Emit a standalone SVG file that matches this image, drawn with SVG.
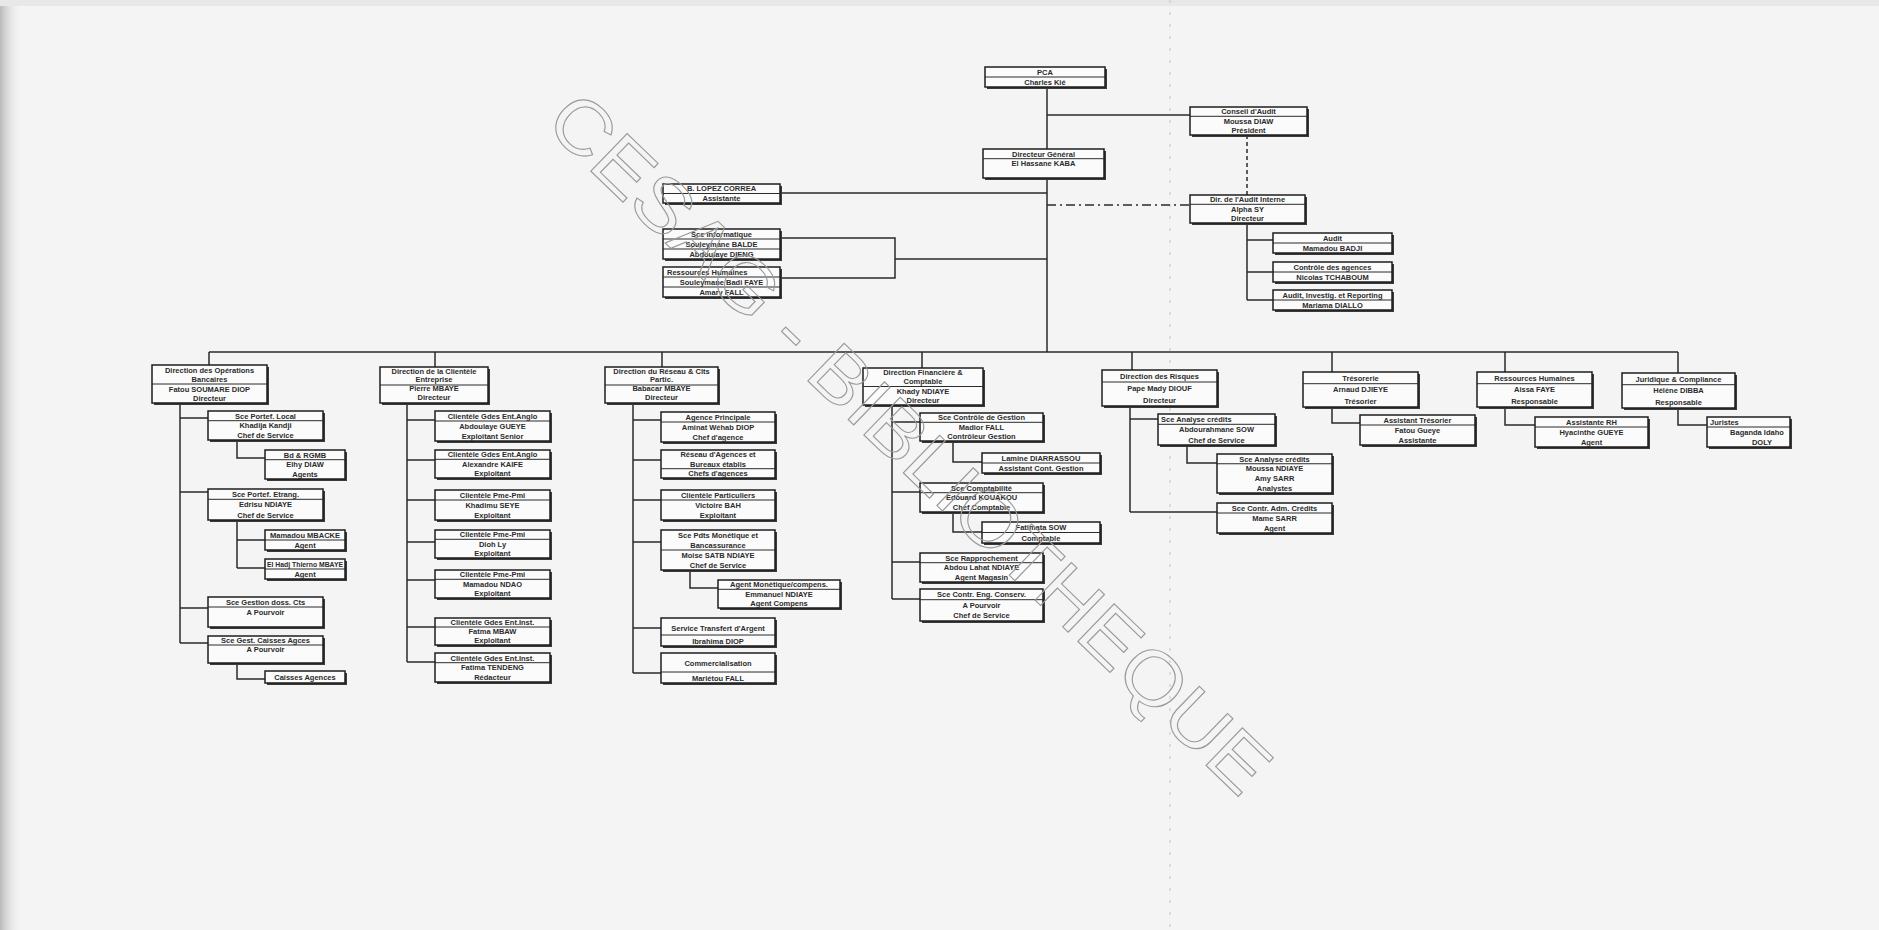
<svg xmlns="http://www.w3.org/2000/svg" width="1879" height="930" viewBox="0 0 1879 930">
<defs>
<linearGradient id="leftEdge" x1="0" y1="0" x2="1" y2="0">
<stop offset="0" stop-color="#b9b9b9"/><stop offset="1" stop-color="#f3f3f3" stop-opacity="0"/>
</linearGradient>
<style>
.bx{fill:#fbfbfb;stroke:#1e1e1e;stroke-width:1.5}
.sh{fill:#3a3a3a}
.dv{stroke:#2a2a2a;stroke-width:1}
.t{font-family:"Liberation Sans",Arial,sans-serif;font-size:7.5px;font-weight:bold;fill:#2b2b2b;text-anchor:middle}
.tl{font-family:"Liberation Sans",Arial,sans-serif;font-size:7.5px;font-weight:bold;fill:#2b2b2b;text-anchor:start}
.c{stroke:#2a2a2a;stroke-width:1.5;fill:none}
.dash{stroke:#2a2a2a;stroke-width:1.5;fill:none;stroke-dasharray:4 3}
.dd{stroke:#2a2a2a;stroke-width:1.5;fill:none;stroke-dasharray:9 4 2 4}
.wm{font-family:"Liberation Sans",Arial,sans-serif;font-size:76px;fill:none;stroke:#9a9a9a;stroke-width:1.1}
</style>
</defs>
<rect width="1879" height="930" fill="#f4f4f4"/>
<rect x="0" y="0" width="22" height="930" fill="url(#leftEdge)"/>
<rect x="0" y="0" width="1879" height="6" fill="#e8e8e8"/>
<line x1="1170" y1="0" x2="1170" y2="930" stroke="#c4c4c4" stroke-width="1" stroke-dasharray="3 9"/>

<g id="connectors">
<path class="c" d="M1047,87 V352"/>
<path class="c" d="M1047,115 H1190"/>
<path class="dash" d="M1247,135 V195"/>
<path class="dd" d="M1047,205 H1190"/>
<path class="c" d="M1247,223 V300 M1247,240 H1273 M1247,272 H1273 M1247,300 H1273"/>
<path class="c" d="M780,193 H1047"/>
<path class="c" d="M780,238 H895 V278 H780 M895,259 H1047"/>
<path class="c" d="M209,352 H1678"/>
<path class="c" d="M209,352 V365 M435,352 V367 M662,352 V367 M922,352 V368 M1132,352 V370 M1332,352 V372 M1505,352 V372 M1678,352 V373"/>
<path class="c" d="M180,403 V643 M180,418 H208 M180,492 H208 M180,608 H208 M180,643 H208"/>
<path class="c" d="M237,440 V458 H265 M237,520 V568 M237,540 H265 M237,568 H265 M237,663 V679 H265"/>
<path class="c" d="M407,403 V662 M407,420 H435 M407,460 H435 M407,500 H435 M407,542 H435 M407,580 H435 M407,627 H435 M407,662 H435"/>
<path class="c" d="M633,403 V673 M633,420 H661 M633,460 H661 M633,500 H661 M633,542 H661 M633,628 H661 M633,673 H661"/>
<path class="c" d="M690,570 V588 H718"/>
<path class="c" d="M892,405 V599 M892,422 H920 M892,492 H920 M892,562 H920 M892,599 H920"/>
<path class="c" d="M953,441 V462 H982 M953,512 V532 H982"/>
<path class="c" d="M1130,406 V512 M1130,419 H1158 M1130,512 H1217 M1187,445 V463 H1217"/>
<path class="c" d="M1332,407 V423 H1360 M1505,407 V425 H1535 M1678,408 V425 H1707"/>
</g>

<g id="pca"><rect class="sh" x="987" y="69" width="120" height="20"/><rect class="bx" x="985" y="67" width="120" height="20"/><line class="dv" x1="985" y1="77" x2="1105" y2="77"/>
<text class="t" x="1045" y="74.7">PCA</text><text class="t" x="1045" y="84.7">Charles Kié</text></g>
<g id="conseil-audit"><rect class="sh" x="1192" y="109" width="117" height="28"/><rect class="bx" x="1190" y="107" width="117" height="28"/><line class="dv" x1="1190" y1="116.3" x2="1307" y2="116.3"/>
<text class="t" x="1248.5" y="114.4">Conseil d'Audit</text><text class="t" x="1248.5" y="123.7">Moussa DIAW</text><text class="t" x="1248.5" y="133">Président</text></g>
<g id="dg"><rect class="sh" x="985" y="151" width="121" height="29"/><rect class="bx" x="983" y="149" width="121" height="29"/><line class="dv" x1="983" y1="158.7" x2="1104" y2="158.7"/>
<text class="t" x="1043.5" y="156.5">Directeur Général</text><text class="t" x="1043.5" y="166.2">El Hassane KABA</text></g>
<g id="lopez"><rect class="sh" x="665" y="186" width="117" height="19"/><rect class="bx" x="663" y="184" width="117" height="19"/><line class="dv" x1="663" y1="193.5" x2="780" y2="193.5"/>
<text class="t" x="721.5" y="191.4">B. LOPEZ CORREA</text><text class="t" x="721.5" y="200.9">Assistante</text></g>
<g id="informatique"><rect class="sh" x="665" y="231" width="117" height="30"/><rect class="bx" x="663" y="229" width="117" height="30"/><line class="dv" x1="663" y1="239" x2="780" y2="239"/><line class="dv" x1="663" y1="249" x2="780" y2="249"/>
<text class="t" x="721.5" y="236.7">Sce Informatique</text><text class="t" x="721.5" y="246.7">Souleymane BALDE</text><text class="t" x="721.5" y="256.7">Abdoulaye DIENG</text></g>
<g id="ressources-humaines-dg"><rect class="sh" x="665" y="269" width="117" height="30"/><rect class="bx" x="663" y="267" width="117" height="30"/><line class="dv" x1="663" y1="277" x2="780" y2="277"/><line class="dv" x1="663" y1="287" x2="780" y2="287"/>
<text class="tl" x="667" y="274.7">Ressources Humaines</text><text class="t" x="721.5" y="284.7">Souleymane Badi FAYE</text><text class="t" x="721.5" y="294.7">Amary FALL</text></g>
<g id="dir-audit"><rect class="sh" x="1192" y="197" width="115" height="28"/><rect class="bx" x="1190" y="195" width="115" height="28"/><line class="dv" x1="1190" y1="204.3" x2="1305" y2="204.3"/>
<text class="t" x="1247.5" y="202.4">Dir. de l'Audit Interne</text><text class="t" x="1247.5" y="211.7">Alpha SY</text><text class="t" x="1247.5" y="221">Directeur</text></g>
<g id="audit"><rect class="sh" x="1275" y="235" width="119" height="20"/><rect class="bx" x="1273" y="233" width="119" height="20"/><line class="dv" x1="1273" y1="243" x2="1392" y2="243"/>
<text class="t" x="1332.5" y="240.7">Audit</text><text class="t" x="1332.5" y="250.7">Mamadou BADJI</text></g>
<g id="controle-agences"><rect class="sh" x="1275" y="264" width="119" height="20"/><rect class="bx" x="1273" y="262" width="119" height="20"/><line class="dv" x1="1273" y1="272" x2="1392" y2="272"/>
<text class="t" x="1332.5" y="269.7">Contrôle des agences</text><text class="t" x="1332.5" y="279.7">Nicolas TCHABOUM</text></g>
<g id="audit-investig"><rect class="sh" x="1275" y="292" width="119" height="20"/><rect class="bx" x="1273" y="290" width="119" height="20"/><line class="dv" x1="1273" y1="300" x2="1392" y2="300"/>
<text class="t" x="1332.5" y="297.7">Audit, Investig. et Reporting</text><text class="t" x="1332.5" y="307.7">Mariama DIALLO</text></g>

<g id="dir-operations"><rect class="sh" x="154" y="367" width="115" height="38"/><rect class="bx" x="152" y="365" width="115" height="38"/><line class="dv" x1="152" y1="384" x2="267" y2="384"/>
<text class="t" x="209.5" y="372.5">Direction des Opérations</text><text class="t" x="209.5" y="382">Bancaires</text><text class="t" x="209.5" y="391.5">Fatou SOUMARE DIOP</text><text class="t" x="209.5" y="401">Directeur</text></g>
<g id="portef-local"><rect class="sh" x="210" y="413" width="115" height="29"/><rect class="bx" x="208" y="411" width="115" height="29"/><line class="dv" x1="208" y1="420.7" x2="323" y2="420.7"/>
<text class="t" x="265.5" y="418.5">Sce Portef. Local</text><text class="t" x="265.5" y="428.2">Khadija Kandji</text><text class="t" x="265.5" y="437.8">Chef de Service</text></g>
<g id="bd-rgmb"><rect class="sh" x="267" y="452" width="80" height="29"/><rect class="bx" x="265" y="450" width="80" height="29"/><line class="dv" x1="265" y1="459.7" x2="345" y2="459.7"/>
<text class="t" x="305" y="457.5">Bd &amp; RGMB</text><text class="t" x="305" y="467.2">Elhy DIAW</text><text class="t" x="305" y="476.8">Agents</text></g>
<g id="portef-etrang"><rect class="sh" x="210" y="491" width="115" height="31"/><rect class="bx" x="208" y="489" width="115" height="31"/><line class="dv" x1="208" y1="499.3" x2="323" y2="499.3"/>
<text class="t" x="265.5" y="496.9">Sce Portef. Etrang.</text><text class="t" x="265.5" y="507.2">Edrisu NDIAYE</text><text class="t" x="265.5" y="517.6">Chef de Service</text></g>
<g id="mbacke"><rect class="sh" x="267" y="532" width="80" height="20"/><rect class="bx" x="265" y="530" width="80" height="20"/><line class="dv" x1="265" y1="540" x2="345" y2="540"/>
<text class="t" x="305" y="537.7">Mamadou MBACKE</text><text class="t" x="305" y="547.7">Agent</text></g>
<g id="mbaye-agent"><rect class="sh" x="267" y="561" width="80" height="20"/><rect class="bx" x="265" y="559" width="80" height="20"/><line class="dv" x1="265" y1="569" x2="345" y2="569"/>
<text class="t" x="305" y="566.7" textLength="76" lengthAdjust="spacingAndGlyphs">El Hadj Thierno MBAYE</text><text class="t" x="305" y="576.7">Agent</text></g>
<g id="gestion-doss"><rect class="sh" x="210" y="599" width="115" height="30"/><rect class="bx" x="208" y="597" width="115" height="30"/><line class="dv" x1="208" y1="607" x2="323" y2="607"/>
<text class="t" x="265.5" y="604.7">Sce Gestion doss. Cts</text><text class="t" x="265.5" y="614.7">A Pourvoir</text></g>
<g id="gest-caisses"><rect class="sh" x="210" y="638" width="115" height="27"/><rect class="bx" x="208" y="636" width="115" height="27"/><line class="dv" x1="208" y1="645" x2="323" y2="645"/>
<text class="t" x="265.5" y="643.2">Sce Gest. Caisses Agces</text><text class="t" x="265.5" y="652.2">A Pourvoir</text></g>
<g id="caisses-agences"><rect class="sh" x="267" y="673" width="80" height="12"/><rect class="bx" x="265" y="671" width="80" height="12"/>
<text class="t" x="305" y="679.7">Caisses Agences</text></g>

<g id="dir-clientele"><rect class="sh" x="382" y="369" width="108" height="36"/><rect class="bx" x="380" y="367" width="108" height="36"/><line class="dv" x1="380" y1="385" x2="488" y2="385"/>
<text class="t" x="434" y="373.7">Direction de la Clientèle</text><text class="t" x="434" y="382.4">Entreprise</text><text class="t" x="434" y="391.4">Pierre MBAYE</text><text class="t" x="434" y="400.4">Directeur</text></g>
<g id="cli-1"><rect class="sh" x="437" y="413" width="115" height="30"/><rect class="bx" x="435" y="411" width="115" height="30"/><line class="dv" x1="435" y1="421" x2="550" y2="421"/>
<text class="t" x="492.5" y="418.7">Clientèle Gdes Ent.Anglo</text><text class="t" x="492.5" y="428.7">Abdoulaye GUEYE</text><text class="t" x="492.5" y="438.7">Exploitant Senior</text></g>
<g id="cli-2"><rect class="sh" x="437" y="452" width="115" height="28"/><rect class="bx" x="435" y="450" width="115" height="28"/><line class="dv" x1="435" y1="459.3" x2="550" y2="459.3"/>
<text class="t" x="492.5" y="457.4">Clientèle Gdes Ent.Anglo</text><text class="t" x="492.5" y="466.7">Alexandre KAIFE</text><text class="t" x="492.5" y="476">Exploitant</text></g>
<g id="cli-3"><rect class="sh" x="437" y="492" width="115" height="30"/><rect class="bx" x="435" y="490" width="115" height="30"/><line class="dv" x1="435" y1="500" x2="550" y2="500"/>
<text class="t" x="492.5" y="497.7">Clientèle Pme-Pmi</text><text class="t" x="492.5" y="507.7">Khadimu SEYE</text><text class="t" x="492.5" y="517.7">Exploitant</text></g>
<g id="cli-4"><rect class="sh" x="437" y="532" width="115" height="28"/><rect class="bx" x="435" y="530" width="115" height="28"/><line class="dv" x1="435" y1="539.3" x2="550" y2="539.3"/>
<text class="t" x="492.5" y="537.4">Clientèle Pme-Pmi</text><text class="t" x="492.5" y="546.7">Dioh Ly</text><text class="t" x="492.5" y="556">Exploitant</text></g>
<g id="cli-5"><rect class="sh" x="437" y="572" width="115" height="28"/><rect class="bx" x="435" y="570" width="115" height="28"/><line class="dv" x1="435" y1="579.3" x2="550" y2="579.3"/>
<text class="t" x="492.5" y="577.4">Clientèle Pme-Pmi</text><text class="t" x="492.5" y="586.7">Mamadou NDAO</text><text class="t" x="492.5" y="596">Exploitant</text></g>
<g id="cli-6"><rect class="sh" x="437" y="620" width="115" height="27"/><rect class="bx" x="435" y="618" width="115" height="27"/><line class="dv" x1="435" y1="627" x2="550" y2="627"/>
<text class="t" x="492.5" y="625.2">Clientèle Gdes Ent.Inst.</text><text class="t" x="492.5" y="634.2">Fatma MBAW</text><text class="t" x="492.5" y="643.2">Exploitant</text></g>
<g id="cli-7"><rect class="sh" x="437" y="655" width="115" height="29"/><rect class="bx" x="435" y="653" width="115" height="29"/><line class="dv" x1="435" y1="662.7" x2="550" y2="662.7"/>
<text class="t" x="492.5" y="660.5">Clientèle Gdes Ent.Inst.</text><text class="t" x="492.5" y="670.2">Fatima TENDENG</text><text class="t" x="492.5" y="679.8">Rédacteur</text></g>

<g id="dir-reseau"><rect class="sh" x="607" y="369" width="113" height="36"/><rect class="bx" x="605" y="367" width="113" height="36"/><line class="dv" x1="605" y1="385" x2="718" y2="385"/>
<text class="t" x="661.5" y="373.7">Direction du Réseau &amp; Clts</text><text class="t" x="661.5" y="382.4">Partic.</text><text class="t" x="661.5" y="391.4">Babacar MBAYE</text><text class="t" x="661.5" y="400.4">Directeur</text></g>
<g id="agence-principale"><rect class="sh" x="663" y="414" width="114" height="30"/><rect class="bx" x="661" y="412" width="114" height="30"/><line class="dv" x1="661" y1="422" x2="775" y2="422"/>
<text class="t" x="718" y="419.7">Agence Principale</text><text class="t" x="718" y="429.7">Aminat Wéhab DIOP</text><text class="t" x="718" y="439.7">Chef d'agence</text></g>
<g id="reseau-agences"><rect class="sh" x="663" y="452" width="114" height="28"/><rect class="bx" x="661" y="450" width="114" height="28"/><line class="dv" x1="661" y1="468.7" x2="775" y2="468.7"/>
<text class="t" x="718" y="457.4">Réseau d'Agences et</text><text class="t" x="718" y="466.7">Bureaux établis</text><text class="t" x="718" y="476">Chefs d'agences</text></g>
<g id="clientele-part"><rect class="sh" x="663" y="492" width="114" height="30"/><rect class="bx" x="661" y="490" width="114" height="30"/><line class="dv" x1="661" y1="500" x2="775" y2="500"/>
<text class="t" x="718" y="497.7">Clientèle Particuliers</text><text class="t" x="718" y="507.7">Victoire BAH</text><text class="t" x="718" y="517.7">Exploitant</text></g>
<g id="monetique"><rect class="sh" x="663" y="532" width="114" height="40"/><rect class="bx" x="661" y="530" width="114" height="40"/><line class="dv" x1="661" y1="550" x2="775" y2="550"/>
<text class="t" x="718" y="537.7">Sce Pdts Monétique et</text><text class="t" x="718" y="547.7">Bancassurance</text><text class="t" x="718" y="557.7">Moise SATB NDIAYE</text><text class="t" x="718" y="567.7">Chef de Service</text></g>
<g id="agent-monetique"><rect class="sh" x="720" y="582" width="122" height="28"/><rect class="bx" x="718" y="580" width="122" height="28"/><line class="dv" x1="718" y1="589.3" x2="840" y2="589.3"/>
<text class="t" x="779" y="587.4">Agent Monétique/compens.</text><text class="t" x="779" y="596.7">Emmanuel NDIAYE</text><text class="t" x="779" y="606">Agent Compens</text></g>
<g id="transfert"><rect class="sh" x="663" y="620" width="114" height="28"/><rect class="bx" x="661" y="618" width="114" height="28"/><line class="dv" x1="661" y1="635" x2="775" y2="635"/>
<text class="t" x="718" y="630.7">Service Transfert d'Argent</text><text class="t" x="718" y="643.7">Ibrahima DIOP</text></g>
<g id="commercialisation"><rect class="sh" x="663" y="655" width="114" height="30"/><rect class="bx" x="661" y="653" width="114" height="30"/><line class="dv" x1="661" y1="672" x2="775" y2="672"/>
<text class="t" x="718" y="665.7">Commercialisation</text><text class="t" x="718" y="680.7">Mariétou FALL</text></g>

<g id="dir-financiere"><rect class="sh" x="865" y="370" width="120" height="37"/><rect class="bx" x="863" y="368" width="120" height="37"/><line class="dv" x1="863" y1="386.5" x2="983" y2="386.5"/>
<text class="t" x="923" y="375.3">Direction Financière &amp;</text><text class="t" x="923" y="384.3">Comptable</text><text class="t" x="923" y="393.8">Khady NDIAYE</text><text class="t" x="923" y="403">Directeur</text></g>
<g id="controle-gestion"><rect class="sh" x="922" y="415" width="123" height="28"/><rect class="bx" x="920" y="413" width="123" height="28"/><line class="dv" x1="920" y1="422.3" x2="1043" y2="422.3"/>
<text class="t" x="981.5" y="420.4">Sce Contrôle de Gestion</text><text class="t" x="981.5" y="429.7">Madior FALL</text><text class="t" x="981.5" y="439">Contrôleur Gestion</text></g>
<g id="assistant-gestion"><rect class="sh" x="984" y="455" width="118" height="20"/><rect class="bx" x="982" y="453" width="118" height="20"/><line class="dv" x1="982" y1="463" x2="1100" y2="463"/>
<text class="t" x="1041" y="460.7">Lamine DIARRASSOU</text><text class="t" x="1041" y="470.7">Assistant Cont. Gestion</text></g>
<g id="comptabilite"><rect class="sh" x="922" y="485" width="123" height="29"/><rect class="bx" x="920" y="483" width="123" height="29"/><line class="dv" x1="920" y1="492.7" x2="1043" y2="492.7"/>
<text class="t" x="981.5" y="490.5">Sce Comptabilité</text><text class="t" x="981.5" y="500.2">Edouard KOUAKOU</text><text class="t" x="981.5" y="509.8">Chef Comptable</text></g>
<g id="comptable"><rect class="sh" x="984" y="524" width="118" height="21"/><rect class="bx" x="982" y="522" width="118" height="21"/><line class="dv" x1="982" y1="532.5" x2="1100" y2="532.5"/>
<text class="t" x="1041" y="530">Fatimata SOW</text><text class="t" x="1041" y="540.5">Comptable</text></g>
<g id="rapprochement"><rect class="sh" x="922" y="555" width="123" height="29"/><rect class="bx" x="920" y="553" width="123" height="29"/><line class="dv" x1="920" y1="562.7" x2="1043" y2="562.7"/>
<text class="t" x="981.5" y="560.5">Sce Rapprochement</text><text class="t" x="981.5" y="570.2">Abdou Lahat NDIAYE</text><text class="t" x="981.5" y="579.8">Agent Magasin</text></g>
<g id="contr-eng"><rect class="sh" x="922" y="591" width="123" height="32"/><rect class="bx" x="920" y="589" width="123" height="32"/><line class="dv" x1="920" y1="599.7" x2="1043" y2="599.7"/>
<text class="t" x="981.5" y="597">Sce Contr. Eng. Conserv.</text><text class="t" x="981.5" y="607.7">A Pourvoir</text><text class="t" x="981.5" y="618.3">Chef de Service</text></g>

<g id="dir-risques"><rect class="sh" x="1104" y="372" width="115" height="36"/><rect class="bx" x="1102" y="370" width="115" height="36"/><line class="dv" x1="1102" y1="382" x2="1217" y2="382"/>
<text class="t" x="1159.5" y="378.7">Direction des Risques</text><text class="t" x="1159.5" y="390.7">Pape Mady DIOUF</text><text class="t" x="1159.5" y="402.7">Directeur</text></g>
<g id="analyse-credits"><rect class="sh" x="1160" y="416" width="117" height="31"/><rect class="bx" x="1158" y="414" width="117" height="31"/><line class="dv" x1="1158" y1="424.3" x2="1275" y2="424.3"/>
<text class="tl" x="1161" y="421.9">Sce Analyse crédits</text><text class="t" x="1216.5" y="432.2">Abdourahmane SOW</text><text class="t" x="1216.5" y="442.5">Chef de Service</text></g>
<g id="analystes"><rect class="sh" x="1219" y="456" width="115" height="39"/><rect class="bx" x="1217" y="454" width="115" height="39"/><line class="dv" x1="1217" y1="463.75" x2="1332" y2="463.75"/>
<text class="t" x="1274.5" y="461.6">Sce Analyse crédits</text><text class="t" x="1274.5" y="471.4">Moussa NDIAYE</text><text class="t" x="1274.5" y="481.1">Amy SARR</text><text class="t" x="1274.5" y="490.9">Analystes</text></g>
<g id="contr-adm-credits"><rect class="sh" x="1219" y="505" width="115" height="30"/><rect class="bx" x="1217" y="503" width="115" height="30"/><line class="dv" x1="1217" y1="513" x2="1332" y2="513"/>
<text class="t" x="1274.5" y="510.7">Sce Contr. Adm. Crédits</text><text class="t" x="1274.5" y="520.7">Mame SARR</text><text class="t" x="1274.5" y="530.7">Agent</text></g>

<g id="tresorerie"><rect class="sh" x="1305" y="374" width="115" height="35"/><rect class="bx" x="1303" y="372" width="115" height="35"/><line class="dv" x1="1303" y1="383.7" x2="1418" y2="383.7"/>
<text class="t" x="1360.5" y="380.5">Trésorerie</text><text class="t" x="1360.5" y="392.2">Arnaud DJIEYE</text><text class="t" x="1360.5" y="403.8">Trésorier</text></g>
<g id="assistant-tresorier"><rect class="sh" x="1362" y="417" width="115" height="30"/><rect class="bx" x="1360" y="415" width="115" height="30"/><line class="dv" x1="1360" y1="425" x2="1475" y2="425"/>
<text class="t" x="1417.5" y="422.7">Assistant Trésorier</text><text class="t" x="1417.5" y="432.7">Fatou Gueye</text><text class="t" x="1417.5" y="442.7">Assistante</text></g>
<g id="ressources-humaines"><rect class="sh" x="1479" y="374" width="115" height="35"/><rect class="bx" x="1477" y="372" width="115" height="35"/><line class="dv" x1="1477" y1="383.7" x2="1592" y2="383.7"/>
<text class="t" x="1534.5" y="380.5">Ressources Humaines</text><text class="t" x="1534.5" y="392.2">Aissa FAYE</text><text class="t" x="1534.5" y="403.8">Responsable</text></g>
<g id="assistante-rh"><rect class="sh" x="1537" y="419" width="113" height="30"/><rect class="bx" x="1535" y="417" width="113" height="30"/><line class="dv" x1="1535" y1="427" x2="1648" y2="427"/>
<text class="t" x="1591.5" y="424.7">Assistante RH</text><text class="t" x="1591.5" y="434.7">Hyacinthe GUEYE</text><text class="t" x="1591.5" y="444.7">Agent</text></g>
<g id="juridique"><rect class="sh" x="1624" y="375" width="113" height="35"/><rect class="bx" x="1622" y="373" width="113" height="35"/><line class="dv" x1="1622" y1="384.7" x2="1735" y2="384.7"/>
<text class="t" x="1678.5" y="381.5">Juridique &amp; Compliance</text><text class="t" x="1678.5" y="393.2">Hélène DIBBA</text><text class="t" x="1678.5" y="404.8">Responsable</text></g>
<g id="juristes"><rect class="sh" x="1709" y="419" width="83" height="30"/><rect class="bx" x="1707" y="417" width="83" height="30"/><line class="dv" x1="1707" y1="427" x2="1790" y2="427"/>
<text class="tl" x="1710" y="424.7">Juristes</text><text class="t" x="1757" y="434.7">Baganda Idaho</text><text class="t" x="1762" y="444.7">DOLY</text></g>

<g id="watermark"><text class="wm" x="0" y="0" text-anchor="middle" textLength="970" lengthAdjust="spacingAndGlyphs" transform="translate(892,462) rotate(44)">CESAG - BIBLIOTHEQUE</text></g>
</svg>
